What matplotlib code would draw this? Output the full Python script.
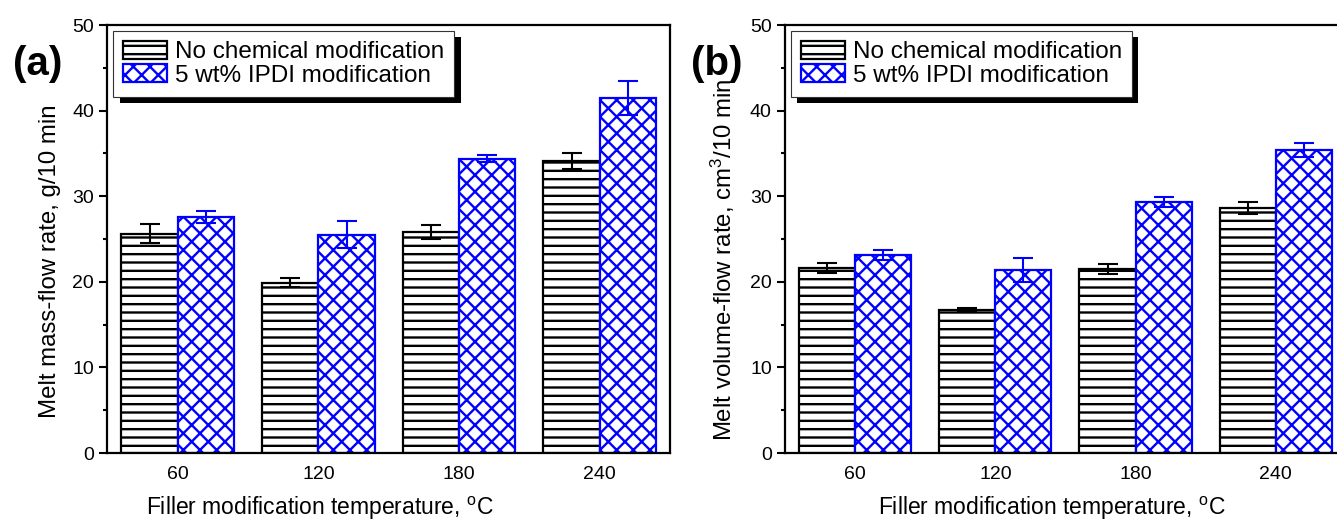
# Melt flow rate bar charts (a) mass-flow, (b) volume-flow
import matplotlib
matplotlib.use("Agg")
import numpy as np
import matplotlib.pyplot as plt
from matplotlib import patheffects
from matplotlib.ticker import MultipleLocator

plt.rcParams['font.family'] = ['Liberation Sans', 'DejaVu Sans']
plt.rcParams['mathtext.default'] = 'regular'
plt.rcParams['hatch.linewidth'] = 1.7

# data
temps = ['60', '120', '180', '240']
mfr_plain = [25.6, 19.9, 25.8, 34.1]
mfr_plain_err = [1.1, 0.5, 0.8, 0.9]
mfr_ipdi = [27.6, 25.5, 34.4, 41.5]
mfr_ipdi_err = [0.7, 1.6, 0.4, 2.0]
mvr_plain = [21.6, 16.7, 21.5, 28.6]
mvr_plain_err = [0.6, 0.2, 0.6, 0.7]
mvr_ipdi = [23.1, 21.4, 29.3, 35.4]
mvr_ipdi_err = [0.6, 1.4, 0.6, 0.8]
labels = ['No chemical modification', '5 wt% IPDI modification']

fig = plt.figure(figsize=(13.37, 5.27), dpi=100)
ax_a = fig.add_axes([0.0803, 0.1404, 0.4209, 0.8121])
ax_b = fig.add_axes([0.5871, 0.1404, 0.4196, 0.8121])


def draw_panel(ax, plain, plain_err, ipdi, ipdi_err, ylabel, xlab_pos, ylab_pos):
    x = np.arange(len(temps))
    w = 0.4
    ax.bar(x - w / 2, plain, w, color='white', edgecolor='black',
           linewidth=1.6, hatch='--', label=labels[0], zorder=2)
    ax.bar(x + w / 2, ipdi, w, color='white', edgecolor='#0000ff',
           linewidth=1.6, hatch='xx', label=labels[1], zorder=2)
    ax.errorbar(x - w / 2, plain, yerr=plain_err, fmt='none', ecolor='black',
                elinewidth=1.5, capsize=7.5, capthick=1.5, zorder=3)
    ax.errorbar(x + w / 2, ipdi, yerr=ipdi_err, fmt='none', ecolor='#0000ff',
                elinewidth=1.5, capsize=7.5, capthick=1.5, zorder=3)

    ax.set_xlim(-0.5, 3.5)
    ax.set_ylim(0, 50)
    ax.set_xticks(x)
    ax.set_xticklabels(temps)
    ax.yaxis.set_major_locator(MultipleLocator(10))
    ax.yaxis.set_minor_locator(MultipleLocator(5))
    ax.tick_params(axis='x', length=0, labelsize=14, pad=9)
    ax.tick_params(axis='y', which='major', direction='out', length=6,
                   width=1.5, labelsize=14)
    ax.tick_params(axis='y', which='minor', direction='out', length=3,
                   width=1.5)
    for sp in ax.spines.values():
        sp.set_linewidth(1.6)

    ax.set_xlabel('Filler modification temperature, $^{o}$C', fontsize=16.5)
    ax.xaxis.set_label_coords(*xlab_pos)
    ax.set_ylabel(ylabel, fontsize=17.3)
    ax.yaxis.set_label_coords(*ylab_pos)

    leg = ax.legend(loc='upper left', fontsize=17.5, fancybox=False,
                    framealpha=1, edgecolor='#333333', borderaxespad=0.25,
                    handlelength=1.8, handleheight=0.75, handletextpad=0.35,
                    labelspacing=0.05, borderpad=0.4)
    leg.get_frame().set_linewidth(0.8)
    leg.get_frame().set_path_effects([
        patheffects.SimplePatchShadow(offset=(4.5, -4.5), shadow_rgbFace='black',
                                      alpha=1.0),
        patheffects.Normal()])
    leg.set_zorder(5)


draw_panel(ax_a, mfr_plain, mfr_plain_err, mfr_ipdi, mfr_ipdi_err,
           'Melt mass-flow rate, g/10 min', (0.378, -0.098), (-0.082, 0.449))
draw_panel(ax_b, mvr_plain, mvr_plain_err, mvr_ipdi, mvr_ipdi_err,
           'Melt volume-flow rate, cm$^{3}$/10 min', (0.476, -0.098),
           (-0.086, 0.452))

fig.text(0.028, 0.878, '(a)', fontsize=29, fontweight='bold',
         ha='center', va='center')
fig.text(0.536, 0.878, '(b)', fontsize=29, fontweight='bold',
         ha='center', va='center')

fig.savefig('out.png', dpi=100)
